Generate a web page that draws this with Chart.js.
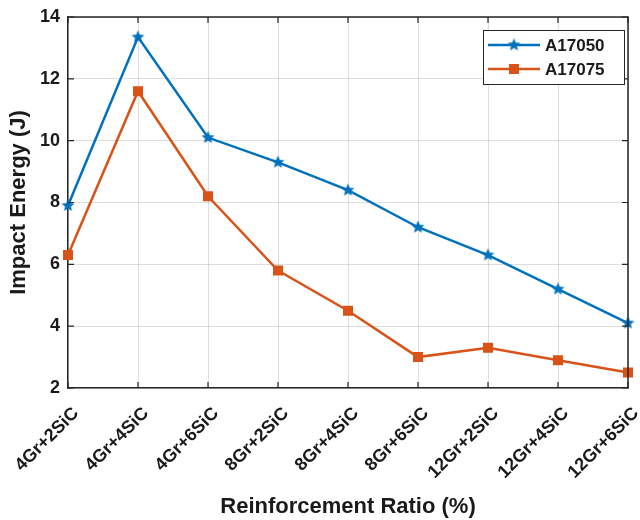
<!DOCTYPE html>
<html>
<head>
<meta charset="utf-8">
<script src="https://cdn.jsdelivr.net/npm/chart.js@4/dist/chart.umd.min.js"></script>
<style>
  html, body { margin: 0; padding: 0; background: #ffffff; }
  #wrap { width: 640px; height: 520px; }
</style>
</head>
<body>
<div id="wrap"><canvas id="c" width="640" height="520"></canvas></div>
<script>
// Reinforcement combinations (x axis)
const categories = ['4Gr+2SiC', '4Gr+4SiC', '4Gr+6SiC', '8Gr+2SiC', '8Gr+4SiC', '8Gr+6SiC', '12Gr+2SiC', '12Gr+4SiC', '12Gr+6SiC'];
// Impact energy (J) for each alloy
const a17050 = [7.9, 13.35, 10.1, 9.3, 8.4, 7.2, 6.3, 5.2, 4.1];
const a17075 = [6.3, 11.6, 8.2, 5.8, 4.5, 3.0, 3.3, 2.9, 2.5];
// Y axis range and tick step
const yMin = 2, yMax = 14, yStep = 2;

const BLUE = '#0072BD';
const ORANGE = '#D95319';
const INK = '#1a1a1a';
const FONT = "'Liberation Sans', Arial, sans-serif";

// Filled five-pointed star marker
function makeStar(color, outer) {
  const size = Math.ceil(outer * 2 + 4);
  const cv = document.createElement('canvas');
  cv.width = size; cv.height = size;
  const g = cv.getContext('2d');
  const cx = size / 2, cy = size / 2, inner = outer * 0.45;
  g.beginPath();
  for (let i = 0; i < 10; i++) {
    const r = i % 2 === 0 ? outer : inner;
    const a = -Math.PI / 2 + i * Math.PI / 5;
    const px = cx + r * Math.cos(a), py = cy + r * Math.sin(a);
    if (i === 0) g.moveTo(px, py); else g.lineTo(px, py);
  }
  g.closePath();
  g.fillStyle = color; g.strokeStyle = color; g.lineWidth = 1.2;
  g.fill(); g.stroke();
  return cv;
}
const starMarker = makeStar(BLUE, 5.2);

// Frame: top/right box edges, inward tick marks, and the in-plot legend
const framePlugin = {
  id: 'frame',
  afterDraw(chart) {
    const { ctx, chartArea: a, scales } = chart;
    ctx.save();
    ctx.strokeStyle = '#262626';
    ctx.lineWidth = 1.5;
    ctx.beginPath();
    ctx.moveTo(a.left, a.top); ctx.lineTo(a.right, a.top); ctx.lineTo(a.right, a.bottom);
    ctx.stroke();
    // inward ticks
    ctx.lineWidth = 1.2;
    ctx.beginPath();
    scales.x.ticks.forEach((t, i) => {
      const x = scales.x.getPixelForTick(i);
      ctx.moveTo(x, a.bottom); ctx.lineTo(x, a.bottom - 6);
      ctx.moveTo(x, a.top); ctx.lineTo(x, a.top + 6);
    });
    scales.y.ticks.forEach((t, i) => {
      const y = scales.y.getPixelForTick(i);
      ctx.moveTo(a.left, y); ctx.lineTo(a.left + 6, y);
      ctx.moveTo(a.right, y); ctx.lineTo(a.right - 6, y);
    });
    ctx.stroke();

    // legend box
    const bx = 483, by = 30, bw = 141, bh = 54;
    ctx.fillStyle = '#ffffff';
    ctx.fillRect(bx, by, bw, bh);
    ctx.strokeStyle = '#262626';
    ctx.lineWidth = 1;
    ctx.strokeRect(bx + 0.5, by + 0.5, bw, bh);
    chart.data.datasets.forEach((ds, i) => {
      const y = by + 15 + i * 24;
      ctx.strokeStyle = ds.borderColor;
      ctx.lineWidth = 2.5;
      ctx.beginPath(); ctx.moveTo(488, y); ctx.lineTo(540, y); ctx.stroke();
      if (ds.pointStyle instanceof HTMLCanvasElement) {
        ctx.drawImage(ds.pointStyle, 514 - ds.pointStyle.width / 2, y - ds.pointStyle.height / 2);
      } else {
        ctx.fillStyle = ds.borderColor;
        ctx.fillRect(514 - 5, y - 5, 10, 10);
      }
      ctx.fillStyle = INK;
      ctx.font = `bold 17px ${FONT}`;
      ctx.textBaseline = 'middle';
      ctx.textAlign = 'left';
      ctx.fillText(ds.label, 545, y + 1);
    });
    ctx.restore();
  }
};

new Chart(document.getElementById('c'), {
  type: 'line',
  data: {
    labels: categories,
    datasets: [
      {
        label: 'A17050', data: a17050,
        borderColor: BLUE, backgroundColor: BLUE, borderWidth: 2.5,
        pointStyle: starMarker, pointRadius: 6, tension: 0
      },
      {
        label: 'A17075', data: a17075,
        borderColor: ORANGE, backgroundColor: ORANGE, borderWidth: 2.5,
        pointStyle: 'rect', pointRadius: 6, pointBorderWidth: 1.5, tension: 0
      }
    ]
  },
  options: {
    responsive: false,
    animation: false,
    devicePixelRatio: 1,
    layout: { padding: { top: 17, right: 12, left: 0, bottom: 0 } },
    plugins: { legend: { display: false }, tooltip: { enabled: false } },
    scales: {
      x: {
        offset: false,
        afterFit(s) { s.height = 132; s.paddingLeft = 0; s.paddingRight = 0; },
        grid: { color: 'rgba(0,0,0,0.13)', lineWidth: 1, drawTicks: false },
        border: { color: '#262626', width: 1.5 },
        ticks: {
          color: INK, font: { family: FONT, size: 18, weight: 'bold' },
          minRotation: 45, maxRotation: 45, padding: 15, labelOffset: 8, autoSkip: false
        },
        title: {
          display: true, text: 'Reinforcement Ratio (%)', color: INK,
          font: { family: FONT, size: 22, weight: 'bold' },
          padding: { top: 0, bottom: 0 }
        }
      },
      y: {
        min: yMin, max: yMax,
        afterFit(s) { s.width = 68; s.paddingTop = 0; s.paddingBottom = 0; },
        grid: { color: 'rgba(0,0,0,0.13)', lineWidth: 1, drawTicks: false },
        border: { color: '#262626', width: 1.5 },
        ticks: {
          stepSize: yStep, color: INK, padding: 8,
          font: { family: FONT, size: 18, weight: 'bold' }
        },
        title: {
          display: true, text: 'Impact Energy (J)', color: INK,
          font: { family: FONT, size: 22, weight: 'bold' },
          padding: { top: 6, bottom: 0 }
        }
      }
    }
  },
  plugins: [framePlugin]
});
</script>
</body>
</html>
